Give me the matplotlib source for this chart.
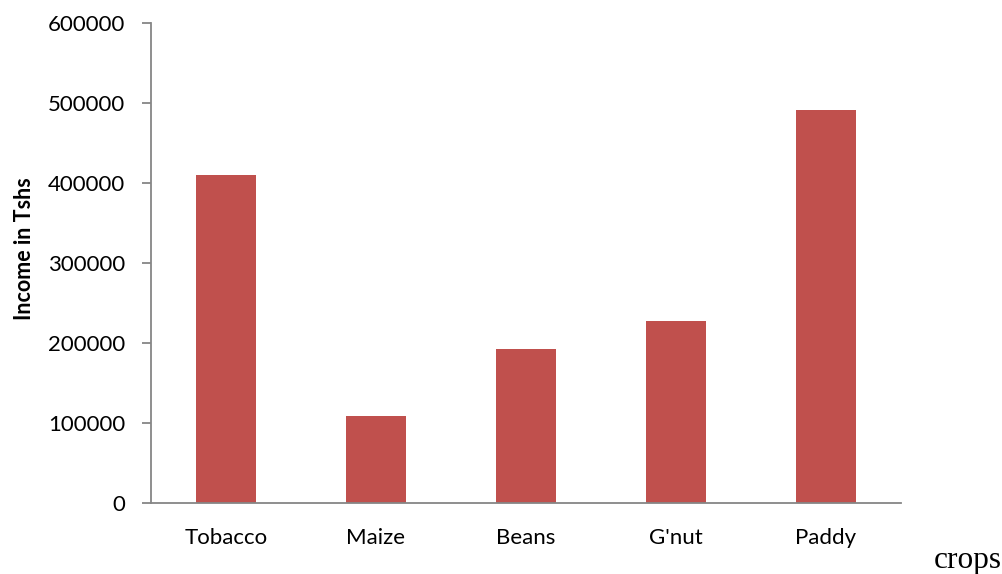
import matplotlib
matplotlib.use("Agg")
import matplotlib.pyplot as plt

crops = ["Tobacco", "Maize", "Beans", "G'nut", "Paddy"]
income = [410000, 108500, 192500, 227000, 491500]
yticks = [0, 100000, 200000, 300000, 400000, 500000, 600000]

plt.rcParams['font.family'] = ['Lato', 'DejaVu Sans']

fig = plt.figure(figsize=(10.03, 5.74), dpi=100)
ax = fig.add_axes([0.1505, 0.1242, 0.7478, 0.8357])

x = range(len(crops))
ax.bar(x, income, width=0.4, color="#C0504D")

ax.set_xlim(-0.5, len(crops) - 0.5)
ax.set_ylim(0, 600000)
ax.set_yticks(yticks)
ax.set_yticklabels([str(v) for v in yticks], fontsize=16)
ax.set_xticks(list(x))
ax.set_xticklabels(crops, fontsize=16)

for side in ["top", "right"]:
    ax.spines[side].set_visible(False)
for side in ["left", "bottom"]:
    ax.spines[side].set_color("#868686")
    ax.spines[side].set_linewidth(1.3)
ax.tick_params(axis="y", direction="out", length=6.5, width=1.3, color="#868686", pad=12)
ax.tick_params(axis="x", length=0, pad=18)

ax.set_ylabel("Income in Tshs", fontsize=15.5, fontweight="bold")
ax.yaxis.set_label_coords(-0.155, 0.53)
fig.text(0.965, 0.011, "crops", fontsize=22.5, family="Liberation Serif", ha="center", va="baseline")

fig.savefig("out.png", dpi=100)
